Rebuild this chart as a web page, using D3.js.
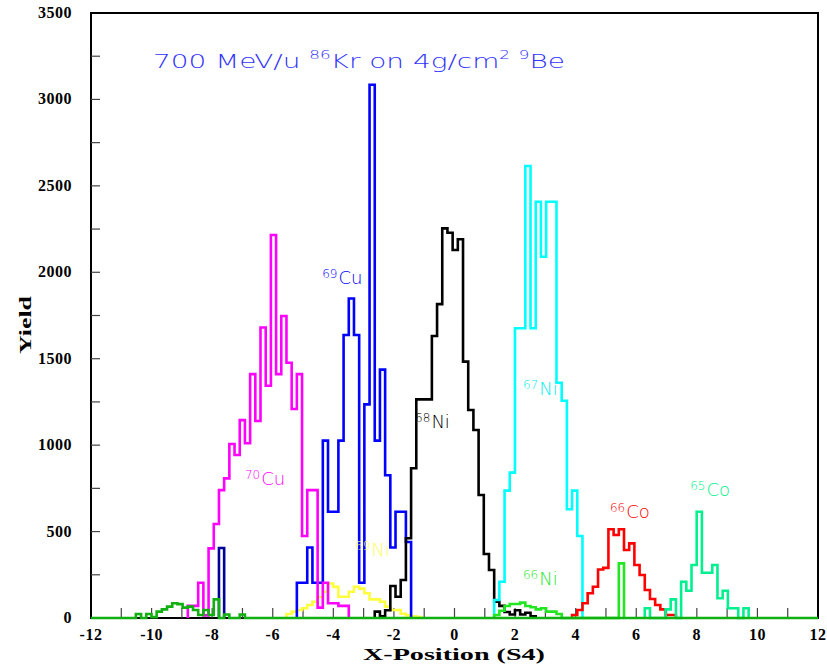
<!DOCTYPE html>
<html>
<head>
<meta charset="utf-8">
<script src="https://cdn.jsdelivr.net/npm/d3@7"></script>
<style>
  html, body { margin: 0; padding: 0; background: #fff; }
  svg { display: block; }
</style>
</head>
<body>
<svg id="chart" width="827" height="669"></svg>
<script>
// Histogram binning along X-Position (S4): 140 bins over the axis range
const binStart = -11.89;
const binWidth = 24 / 140;

// Axis ticks
const xTickLabels = [-12, -10, -8, -6, -4, -2, 0, 2, 4, 6, 8, 10, 12];
const yTickLabels = [0, 500, 1000, 1500, 2000, 2500, 3000, 3500];

// Counts per bin; each series starts at the given bin index
const cu70Start = 18;
const cu70 = [70, 70, 204, 15, 403, 544, 740, 808, 1007, 943, 1145, 1011, 1411, 1140,
  1681, 1344, 2216, 1411, 1747, 1477, 1209, 1411, 474, 740, 740, 60, 204, 85, 85, 70, 70];

const navyStart = 24;
const navy = [405];

const cu69Start = 39;
const cu69 = [204, 204, 408, 204, 204, 1026, 615, 615, 1026, 1637, 1848, 1637, 204, 1236,
  3085, 1026, 1437, 826, 408, 615, 615, 440];

const ni68Start = 54;
const ni68 = [37, 10, 45, 185, 123, 220, 461, 866, 1265, 1265, 1265, 1631, 1816, 2254,
  2229, 2129, 2191, 1483, 1203, 1088, 712, 370, 278, 94, 70, 35, 20, 45, 20, 30, 10];

const ni67Start = 77;
const ni67 = [104, 210, 737, 841, 1676, 1676, 2615, 1676, 2408, 2090, 2408, 2408, 1361,
  1257, 629, 737, 474];

const co66Start = 92;
const co66 = [17, 46, 85, 143, 181, 281, 290, 513, 480, 513, 393, 432, 307, 249, 162,
  110, 75, 50, 17, 17];

const ni66Start = 77;
const ni66 = [17, 42, 69, 81, 81, 89, 69, 62, 50, 56, 37, 37, 23,
  0, 0, 0, 0, 0, 0, 0, 0, 0, 0, 0, 316];

const co65Start = 106;
const co65 = [56, 0, 0, 0, 50, 108, 0, 210, 158, 307, 615, 262, 262, 307, 114, 158, 56, 56, 0, 56];

const ni69Start = 37;
const ni69 = [23, 37, 46, 56, 75, 94, 120, 152, 200, 180, 123, 123, 152, 181, 170, 143,
  108, 108, 94, 66, 46, 46, 25, 15, 10, 5];

const bgStart = 8;
const bg = [23, 0, 23, 5, 37, 50, 66, 85, 80, 60, 66, 46, 17, 46, 17, 108, 0, 20, 0, 0, 20];

// Isotope labels: mass number, element, anchor (data coords)
const isoMass = ["70", "69", "68", "67", "66", "66", "65", "69"];
const isoElem = ["Cu", "Cu", "Ni", "Ni", "Ni", "Co", "Co", "Ni"];
const isoX = [-6.92, -4.37, -1.30, 2.26, 2.26, 5.13, 7.78, -3.28];
const isoY = [769, 1932, 1099, 1290, 191, 578, 706, 359];

const svg = d3.select("#chart");
const plotLeft = 91, plotRight = 818, plotTop = 13, plotBottom = 618;

const x = d3.scaleLinear().domain([-12, 12]).range([plotLeft, plotRight]);
const y = d3.scaleLinear().domain([0, 3500]).range([plotBottom, plotTop]);

const edge = i => binStart + i * binWidth;

function histPoints(start, counts, full) {
  const pts = [];
  if (full) pts.push({ x: -12, v: 0 });
  pts.push({ x: edge(start), v: 0 });
  counts.forEach((c, j) => pts.push({ x: edge(start + j), v: c }));
  pts.push({ x: edge(start + counts.length), v: 0 });
  if (full) pts.push({ x: 12, v: 0 });
  return pts;
}

const line = d3.line()
  .x(d => x(d.x))
  .y(d => y(d.v))
  .curve(d3.curveStepAfter);

// Frame
svg.append("rect")
  .attr("x", plotLeft).attr("y", plotTop)
  .attr("width", plotRight - plotLeft).attr("height", plotBottom - plotTop)
  .attr("fill", "none").attr("stroke", "#000").attr("stroke-width", 2);

// Inner ticks
const minorX = d3.range(-11, 12, 1);
svg.append("g").selectAll("line").data(minorX).join("line")
  .attr("x1", d => x(d)).attr("x2", d => x(d))
  .attr("y1", plotBottom).attr("y2", plotBottom - 10)
  .attr("stroke", "#444").attr("stroke-width", 1.2);

const minorY = d3.range(250, 3500, 250);
svg.append("g").selectAll("line").data(minorY).join("line")
  .attr("x1", plotLeft).attr("x2", plotLeft + 9)
  .attr("y1", d => y(d)).attr("y2", d => y(d))
  .attr("stroke", "#444").attr("stroke-width", 1.2);

// Tick labels
const tickFont = "'Liberation Serif', 'Times New Roman', serif";
svg.append("g").selectAll("text").data(xTickLabels).join("text")
  .attr("x", d => x(d)).attr("y", 640)
  .attr("text-anchor", "middle")
  .attr("font-family", tickFont).attr("font-weight", "bold")
  .attr("font-size", 16).attr("letter-spacing", 0.5)
  .text(d => d);

svg.append("g").selectAll("text").data(yTickLabels).join("text")
  .attr("x", 72).attr("y", d => y(d) + 5)
  .attr("text-anchor", "end")
  .attr("font-family", tickFont).attr("font-weight", "bold")
  .attr("font-size", 16).attr("letter-spacing", 0.5)
  .text(d => d);

// Axis titles
svg.append("text")
  .attr("x", 454).attr("y", 660)
  .attr("text-anchor", "middle")
  .attr("font-family", tickFont).attr("font-weight", "bold")
  .attr("font-size", 16)
  .attr("textLength", 182).attr("lengthAdjust", "spacingAndGlyphs")
  .text("X-Position (S4)");

svg.append("text")
  .attr("transform", "translate(31,325) rotate(-90)")
  .attr("text-anchor", "middle")
  .attr("font-family", tickFont).attr("font-weight", "bold")
  .attr("font-size", 16)
  .attr("textLength", 58).attr("lengthAdjust", "spacingAndGlyphs")
  .text("Yield");

// Histograms
const series = [
  { start: ni69Start, counts: ni69, color: "#ffff40" },
  { start: navyStart, counts: navy, color: "#000099" },
  { start: cu69Start, counts: cu69, color: "#0000ff" },
  { start: cu70Start, counts: cu70, color: "#ff00ff" },
  { start: ni68Start, counts: ni68, color: "#000000" },
  { start: ni67Start, counts: ni67, color: "#00ffff" },
  { start: co66Start, counts: co66, color: "#ff0000" },
  { start: co65Start, counts: co65, color: "#00f090" },
  { start: ni66Start, counts: ni66, color: "#22e622" },
  { start: bgStart, counts: bg, color: "#10b010", full: true }
];

svg.append("g").selectAll("path").data(series).join("path")
  .attr("d", s => line(histPoints(s.start, s.counts, s.full)))
  .attr("fill", "none")
  .attr("stroke", s => s.color)
  .attr("stroke-width", 2.6)
  .attr("stroke-linejoin", "miter");

// Title
const labelFont = "'DejaVu Sans', 'Liberation Sans', sans-serif";
const title = svg.append("text")
  .attr("x", 153).attr("y", 68)
  .attr("font-family", labelFont).attr("font-size", 20).attr("font-weight", 200)
  .attr("fill", "#3333ff")
  .attr("textLength", 412).attr("lengthAdjust", "spacingAndGlyphs");
title.append("tspan").text("700 MeV/u ");
title.append("tspan").attr("font-size", 12).attr("dy", -9).text("86");
title.append("tspan").attr("dy", 9).text("Kr on 4g/cm");
title.append("tspan").attr("font-size", 12).attr("dy", -9).text("2");
title.append("tspan").attr("dy", 9).text("  ");
title.append("tspan").attr("font-size", 12).attr("dy", -9).text("9");
title.append("tspan").attr("dy", 9).text("Be");

// Isotope labels
const isoColor = ["#ff00ff", "#0000ff", "#000000", "#00eeee", "#22e622", "#ff0000", "#00f090", "#ffff60"];
isoMass.forEach((m, i) => {
  const t = svg.append("text")
    .attr("x", x(isoX[i])).attr("y", y(isoY[i]))
    .attr("font-family", labelFont).attr("font-weight", 200)
    .attr("fill", isoColor[i]);
  t.append("tspan").attr("font-size", 12).attr("dy", -6).text(m);
  t.append("tspan").attr("font-size", 18).attr("dy", 6).attr("dx", 1).text(isoElem[i]);
});
</script>
</body>
</html>
